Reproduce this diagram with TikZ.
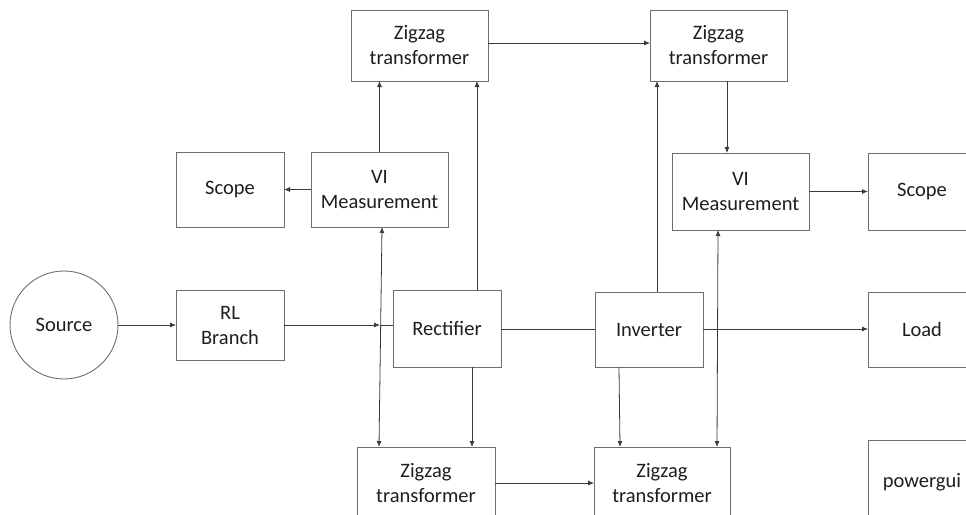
\documentclass[tikz,border=0pt]{standalone}
\usepackage{fontspec}
\setmainfont{Carlito}
\usetikzlibrary{arrows.meta}
\definecolor{boxc}{HTML}{6E6E6E}
\definecolor{linec}{HTML}{3A3A3A}
\definecolor{txtc}{HTML}{1E1E1E}
\begin{document}
\begin{tikzpicture}[x=1pt,y=-1pt,
  blk/.style={draw=boxc,line width=0.9pt,rectangle,inner sep=0pt,outer sep=0pt,align=center,text=txtc,font=\fontsize{20.5}{25}\selectfont},
  circ/.style={draw=boxc,line width=0.9pt,circle,inner sep=0pt,outer sep=0pt,minimum size=108pt,text=txtc,font=\fontsize{20.5}{25}\selectfont},
  arr/.style={draw=linec,line width=0.8pt,-{Latex[length=6pt,width=5pt]}},
  darr/.style={draw=linec,line width=0.8pt,{Latex[length=6pt,width=5pt]}-{Latex[length=6pt,width=5pt]}},
  ln/.style={draw=linec,line width=0.8pt}]
\useasboundingbox (0,0) rectangle (966,514);
\clip (0,0) rectangle (966,514);
% nodes
\node[circ] (src) at (64,325) {Source};
\node[blk,minimum width=108pt,minimum height=70pt] (rl) at (230,325) {RL\\Branch};
\node[blk,minimum width=108pt,minimum height=75pt] (scL) at (230,189.5) {Scope};
\node[blk,minimum width=137pt,minimum height=75pt] (viL) at (379.5,189.5) {VI\\Measurement};
\node[blk,minimum width=137pt,minimum height=71pt] (zzTL) at (419.5,45.5) {Zigzag\\transformer};
\node[blk,minimum width=137pt,minimum height=71pt] (zzTR) at (718.5,45.5) {Zigzag\\transformer};
\node[blk,minimum width=137pt,minimum height=77pt] (viR) at (740.5,191.5) {VI\\Measurement};
\node[blk,minimum width=108pt,minimum height=77pt] (scR) at (922,191.5) {Scope};
\node[blk,minimum width=108pt,minimum height=77pt] (rect) at (447,328.5) {Rectifier};
\node[blk,minimum width=108pt,minimum height=75pt] (inv) at (649,329.5) {Inverter};
\node[blk,minimum width=108pt,minimum height=75pt] (load) at (922,329.5) {Load};
\node[blk,minimum width=138pt,minimum height=72pt] (zzBL) at (426,483) {Zigzag\\transformer};
\node[blk,minimum width=136pt,minimum height=72pt] (zzBR) at (662,483) {Zigzag\\transformer};
\node[blk,minimum width=108pt,minimum height=84pt] (pg) at (922,482) {powergui};
% junction
\coordinate (j1) at (380,325);
% connectors
\draw[arr] (src.east) -- (rl.west);
\draw[arr] (rl.east) -- (j1);
\draw[ln] (j1) -- (rect.west |- j1);
\draw[ln] (rect.east |- 0,329) -- (inv.west |- 0,329);
\draw[arr] (inv.east |- 0,329) -- (load.west |- 0,329);
\draw[arr] (viL.west) -- (scL.east);
\draw[arr] (viL.north) -- (zzTL.south -| viL.north);
\draw[arr] (rect.north -| 477,0) -- (zzTL.south -| 477,0);
\draw[arr] (zzTL.east |- 0,43) -- (zzTR.west |- 0,43);
\draw[arr] (inv.north -| 657,0) -- (zzTR.south -| 657,0);
\draw[arr] (zzTR.south -| 727,0) -- (viR.north -| 727,0);
\draw[arr] (viR.east) -- (scR.west);
\draw[darr] (viL.south -| 382,0) -- (zzBL.north -| 379,0);
\draw[darr] (viR.south -| 718,0) -- (zzBR.north -| 717,0);
\draw[arr] (rect.south -| 472,0) -- (zzBL.north -| 472,0);
\draw[arr] (inv.south -| 619,0) -- (zzBR.north -| 620,0);
\draw[arr] (zzBL.east) -- (zzBR.west);
\end{tikzpicture}
\end{document}
